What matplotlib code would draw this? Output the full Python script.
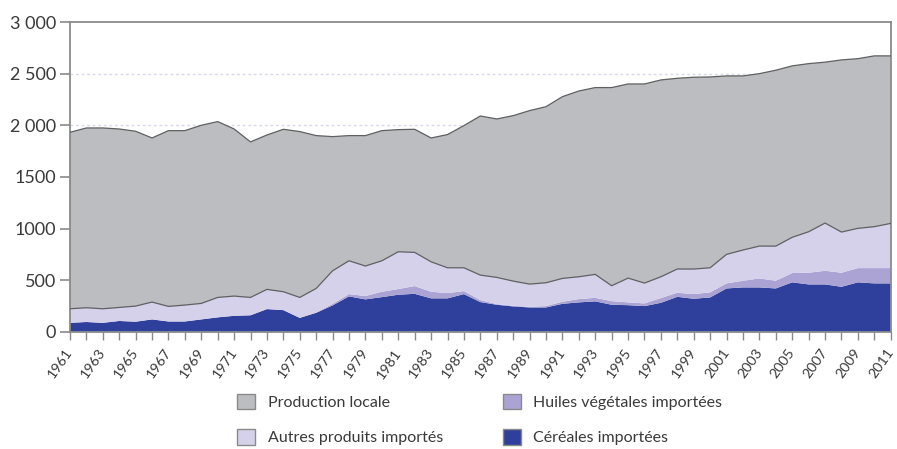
import numpy as np
import matplotlib
matplotlib.use("Agg")
import matplotlib.pyplot as plt
from matplotlib.patches import Patch

plt.rcParams['font.family'] = ['Lato', 'DejaVu Sans']

years = list(range(1961, 2012))

# valeurs (empilées, de bas en haut)
cereales = [87, 95, 87, 105, 98, 120, 100, 100, 120, 140,
            155, 160, 220, 210, 135, 184, 256, 343, 314, 336,
            359, 368, 324, 324, 365, 288, 262, 246, 236, 236,
            271, 285, 295, 262, 258, 249, 281, 339, 320, 333,
            420, 430, 430, 420, 479, 459, 459, 436, 479, 469,
            469]
huiles = [0, 0, 0, 0, 0, 0, 0, 0, 0, 0,
          0, 0, 0, 0, 0, 3, 14, 22, 32, 52,
          55, 75, 64, 51, 29, 19, 6, 6, 6, 13,
          20, 32, 34, 35, 27, 26, 46, 39, 45, 49,
          49, 64, 87, 74, 90, 113, 132, 136, 138, 148,
          148]
autres = [136, 138, 136, 131, 151, 168, 146, 159, 155, 193,
          191, 173, 191, 178, 198, 233, 321, 323, 291, 300,
          361, 326, 290, 245, 226, 242, 259, 239, 220, 226,
          226, 216, 227, 149, 235, 197, 206, 230, 243, 238,
          281, 298, 313, 336, 346, 397, 462, 394, 385, 401,
          433]
production = [1709, 1741, 1751, 1728, 1693, 1589, 1702, 1689, 1725, 1703,
              1618, 1506, 1495, 1573, 1606, 1480, 1299, 1212, 1263, 1260,
              1183, 1192, 1199, 1290, 1377, 1541, 1534, 1602, 1680, 1705,
              1760, 1799, 1809, 1919, 1880, 1928, 1906, 1847, 1857, 1848,
              1728, 1686, 1670, 1703, 1660, 1628, 1558, 1667, 1643, 1654,
              1622]

yticks = [0, 500, 1000, 1500, 2000, 2500, 3000]
ytick_labels = ['0', '500', '1000', '1500', '2 000', '2 500', '3 000']

c_cer = '#2f409c'
c_hui = '#aaa3d3'
c_aut = '#d6d1ea'
c_pro = '#bcbdc0'
line_col = '#5f6062'

fig = plt.figure(figsize=(8.97, 4.49), dpi=100)
ax = fig.add_axes([0.078, 0.261, 0.915, 0.690])

ax.stackplot(years, cereales, huiles, autres, production,
             colors=[c_cer, c_hui, c_aut, c_pro], linewidth=0, zorder=2)

# lignes de contour (haut des importations et total)
imports_top = np.array(cereales) + np.array(huiles) + np.array(autres)
total = imports_top + np.array(production)
ax.plot(years, imports_top, color=line_col, lw=0.9, zorder=3)
ax.plot(years, total, color=line_col, lw=0.9, zorder=3)

ax.set_xlim(1961, 2011)
ax.set_ylim(0, 3000)

ax.set_yticks(yticks)
ax.set_yticklabels(ytick_labels)
ax.set_xticks(years)
ax.set_xticklabels([str(y) if (y - 1961) % 2 == 0 else '' for y in years],
                   rotation=55, ha='right', va='center', rotation_mode='anchor')

for y in [500, 1000, 1500, 2000, 2500]:
    ax.axhline(y, color='#d8d8ef', lw=1, ls=(0, (2, 2)), zorder=1)

for s in ax.spines.values():
    s.set_color('#8a8a8c')
    s.set_linewidth(1.3)

ax.tick_params(axis='y', length=7, width=1.2, color='#8a8a8c',
               labelsize=13, labelcolor='#3a3a3a', pad=3)
ax.tick_params(axis='x', length=6, width=1.0, color='#8a8a8c',
               labelsize=10.3, labelcolor='#3a3a3a', pad=7)

handles = [Patch(facecolor=c_pro, edgecolor='#8a8a8c', label='Production locale'),
           Patch(facecolor=c_aut, edgecolor='#8a8a8c', label='Autres produits importés'),
           Patch(facecolor=c_hui, edgecolor='#8a8a8c', label='Huiles végétales importées'),
           Patch(facecolor=c_cer, edgecolor='#8a8a8c', label='Céréales importées')]
fig.legend(handles=handles, ncol=2, loc='center', bbox_to_anchor=(0.535, 0.065),
           frameon=False, fontsize=11.5, labelcolor='#3a3a3a',
           handlelength=1.1, handleheight=1.1, handletextpad=0.8,
           columnspacing=3.75, labelspacing=1.2)

fig.savefig('out.png', dpi=100)
